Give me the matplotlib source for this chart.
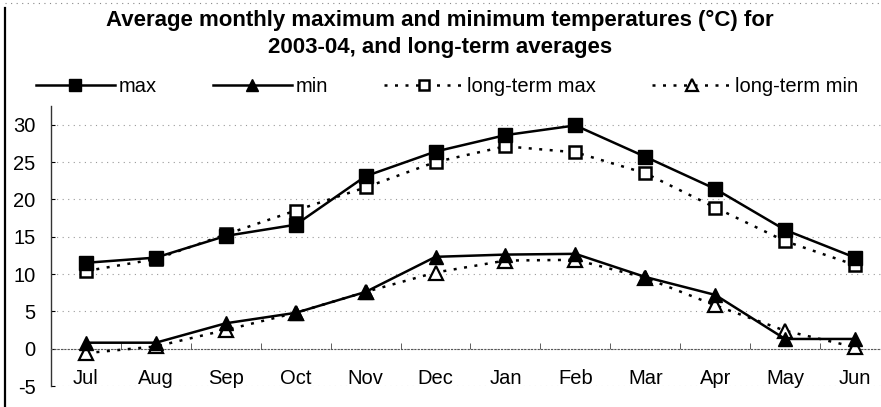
"""Average monthly max/min temperatures 2003-04 vs long-term averages."""
import matplotlib
matplotlib.use("Agg")
import matplotlib.pyplot as plt
from matplotlib.lines import Line2D
from matplotlib.ticker import FixedLocator

plt.rcParams["font.family"] = ["Liberation Sans", "DejaVu Sans"]

months = ["Jul", "Aug", "Sep", "Oct", "Nov", "Dec",
          "Jan", "Feb", "Mar", "Apr", "May", "Jun"]
t_max = [11.5, 12.2, 15.1, 16.6, 23.1, 26.4, 28.6, 29.9, 25.7, 21.4, 15.9, 12.2]
t_min = [0.8, 0.8, 3.4, 4.8, 7.6, 12.3, 12.6, 12.7, 9.6, 7.2, 1.3, 1.3]
lt_max = [10.4, 12.0, 15.3, 18.5, 21.6, 25.0, 27.1, 26.3, 23.5, 18.9, 14.4, 11.2]
lt_min = [-0.6, 0.3, 2.5, 4.8, 7.6, 10.2, 11.8, 11.9, 9.5, 5.8, 2.4, 0.2]
y_ticks = [-5, 0, 5, 10, 15, 20, 25, 30]

W, H = 881, 407
fig = plt.figure(figsize=(W / 100, H / 100), dpi=100)
ax = fig.add_axes([51 / W, 1 - 386 / H, 839 / W, 280 / H])

x = list(range(len(months)))
dots = (0, (1.2, 3.0))
h_max, = ax.plot(x, t_max, color="black", lw=1.8, marker="s", ms=10.5,
                 mfc="black", mec="black", label="max", zorder=4)
h_min, = ax.plot(x, t_min, color="black", lw=1.8, marker="^", ms=10.5,
                 mfc="black", mec="black", label="min", zorder=4)
h_ltmax, = ax.plot(x, lt_max, color="black", lw=1.8, ls=dots, marker="s", ms=9,
                   mfc="white", mec="black", mew=1.8, label="long-term max", zorder=3)
h_ltmin, = ax.plot(x, lt_min, color="black", lw=1.8, ls=dots, marker="^", ms=9.5,
                   mfc="white", mec="black", mew=1.6, label="long-term min", zorder=3)

ax.set_xlim(-0.5, len(months) - 0.5)
ax.set_ylim(-5, 32.5)
ax.set_yticks(y_ticks)
ax.set_yticklabels([str(v) for v in y_ticks])
ax.set_xticks(x)
ax.set_xticklabels(months)
ax.xaxis.set_minor_locator(FixedLocator([i + 0.5 for i in x[:-1]]))

for s in ["top", "right"]:
    ax.spines[s].set_visible(False)
ax.spines["bottom"].set_position(("data", 0))
ax.spines["bottom"].set_linestyle((0, (1, 2)))
ax.spines["bottom"].set_color("#555555")
ax.spines["left"].set_color("#333333")
ax.spines["left"].set_linewidth(1.0)

ax.tick_params(axis="x", which="major", length=0, pad=15, labelsize=14.5)
ax.tick_params(axis="x", which="minor", length=4, direction="in", color="#444444")
ax.tick_params(axis="y", length=3, direction="in", pad=11, labelsize=14.5)
ax.grid(axis="y", color="#999999", ls=(0, (1, 4)), lw=0.8)
ax.set_axisbelow(True)

fig.text(440 / W, 1 - 34 / H,
         "Average monthly maximum and minimum temperatures (\u00b0C) for\n"
         "2003-04, and long-term averages",
         ha="center", va="center", fontsize=16, fontweight="bold", linespacing=1.42)

fig.legend([h_max, h_min, h_ltmax, h_ltmin],
           ["max", "min", "long-term max", "long-term min"],
           loc="center", bbox_to_anchor=(447 / W, 1 - 87 / H), ncol=4,
           frameon=False, fontsize=14.5, handlelength=3.9, handletextpad=0.2,
           columnspacing=2.8, borderaxespad=0, markerscale=0.85)

# outer chart frame: solid left edge, dotted top edge
fig.add_artist(Line2D([5 / W, 5 / W], [0, 1 - 8 / H], transform=fig.transFigure,
                      color="black", lw=1.6))
fig.add_artist(Line2D([5 / W, 1], [1 - 3 / H, 1 - 3 / H], transform=fig.transFigure,
                      color="#888888", lw=0.8, ls=(0, (1, 4))))

fig.savefig("out.png", dpi=100)
